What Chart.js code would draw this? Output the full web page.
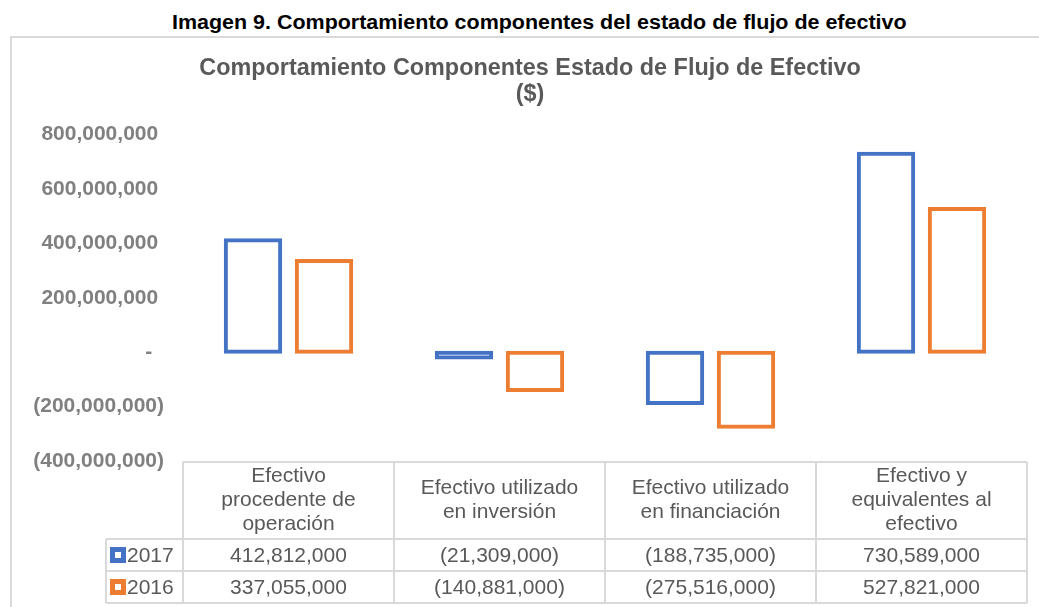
<!DOCTYPE html>
<html>
<head>
<meta charset="utf-8">
<script src="https://cdn.jsdelivr.net/npm/chart.js@4/dist/chart.umd.min.js"></script>
<style>
  body { margin: 0; background: #fff; width: 1039px; height: 607px; overflow: hidden; position: relative; font-family: 'Liberation Sans', Arial, sans-serif; }
  #titulo { position: absolute; left: 172px; top: 12px; font-weight: bold; font-size: 20px; line-height: 20px; color: #000; white-space: nowrap; transform-origin: left center; }
  #marco { position: absolute; left: 10px; top: 36px; right: 0; bottom: 0; border-left: 2px solid #d9d9d9; border-top: 2px solid #d9d9d9; }
  #contenedor { position: absolute; left: 13px; top: 40px; width: 1026px; height: 567px; }
</style>
</head>
<body>
<div id="titulo">Imagen 9. Comportamiento componentes del estado de flujo de efectivo</div>
<div id="marco"></div>
<div id="contenedor"><canvas id="grafico"></canvas></div>
<script>
// datos del grafico
const categorias = [
  ["Efectivo", "procedente de", "operación"],
  ["Efectivo utilizado", "en inversión"],
  ["Efectivo utilizado", "en financiación"],
  ["Efectivo y", "equivalentes al", "efectivo"]
];
const series = ["2017", "2016"];
const valores2017 = [412812000, -21309000, -188735000, 730589000];
const valores2016 = [337055000, -140881000, -275516000, 527821000];
const colores = ["#4472C4", "#ED7D31"];
const ejeMin = -400000000;
const ejeMax = 800000000;
const ejePaso = 200000000;

// ajustar ancho del titulo de la imagen
const tit = document.getElementById("titulo");
tit.style.transform = "scaleX(" + (735 / tit.offsetWidth) + ")";

const formato = (v) => {
  if (v === 0) return "-  ";
  if (v < 0) return "(" + Math.abs(v).toLocaleString("en-US") + ")";
  return v.toLocaleString("en-US") + " ";
};

// tabla de datos debajo del grafico
const tablaDatos = {
  id: "tablaDatos",
  afterDraw(chart) {
    const ctx = chart.ctx;
    const area = chart.chartArea;
    const x = chart.scales.x;
    const n = chart.data.labels.length;
    const w = (area.right - area.left) / n;
    const top = area.bottom + 1;
    const headBottom = top + 77;
    const filaAlto = 32;
    const izqLeyenda = 93;
    const bordes = [];
    for (let i = 0; i < n; i++) bordes.push(x.getPixelForValue(i) - w / 2);
    bordes.push(x.getPixelForValue(n - 1) + w / 2);

    ctx.save();
    ctx.strokeStyle = "#d9d9d9";
    ctx.lineWidth = 2;
    ctx.beginPath();
    ctx.moveTo(bordes[0], top); ctx.lineTo(bordes[n], top);
    for (let r = 0; r <= chart.data.datasets.length; r++) {
      const y = headBottom + r * filaAlto;
      ctx.moveTo(izqLeyenda, y); ctx.lineTo(bordes[n], y);
    }
    const fondo = headBottom + chart.data.datasets.length * filaAlto;
    ctx.moveTo(izqLeyenda, headBottom); ctx.lineTo(izqLeyenda, fondo);
    for (let i = 0; i <= n; i++) {
      ctx.moveTo(bordes[i], top); ctx.lineTo(bordes[i], fondo);
    }
    ctx.stroke();

    ctx.fillStyle = "#595959";
    ctx.font = "21px 'Liberation Sans', Arial, sans-serif";
    ctx.textAlign = "center";
    ctx.textBaseline = "middle";
    // encabezados
    const medioHead = (top + headBottom) / 2;
    for (let i = 0; i < n; i++) {
      const lineas = chart.data.labels[i];
      const cx = x.getPixelForValue(i);
      for (let l = 0; l < lineas.length; l++) {
        ctx.fillText(lineas[l], cx, medioHead + (l - (lineas.length - 1) / 2) * 24);
      }
    }
    // filas
    chart.data.datasets.forEach((ds, r) => {
      const cy = headBottom + r * filaAlto + filaAlto / 2;
      for (let i = 0; i < n; i++) {
        const v = ds.data[i];
        const txt = v < 0 ? "(" + Math.abs(v).toLocaleString("en-US") + ")" : v.toLocaleString("en-US");
        ctx.fillStyle = "#595959";
        ctx.textAlign = "center";
        ctx.fillText(txt, x.getPixelForValue(i), cy + 1);
      }
      // clave de leyenda
      ctx.fillStyle = ds.borderColor;
      ctx.fillRect(izqLeyenda + 4, cy - 8, 16, 16);
      ctx.fillStyle = "#fff";
      ctx.fillRect(izqLeyenda + 9, cy - 3, 6, 6);
      ctx.fillStyle = "#595959";
      ctx.textAlign = "left";
      ctx.fillText(ds.label, izqLeyenda + 21, cy + 1);
    });
    ctx.restore();
  }
};

const data = {
  labels: categorias,
  datasets: [
    { label: series[0], data: valores2017, borderColor: colores[0], backgroundColor: "rgba(0,0,0,0)", borderWidth: 1, inflateAmount: 1.5, borderSkipped: false },
    { label: series[1], data: valores2016, borderColor: colores[1], backgroundColor: "rgba(0,0,0,0)", borderWidth: 1, inflateAmount: 1.5, borderSkipped: false }
  ]
};

const config = {
  type: "bar",
  data: data,
  options: {
    responsive: true,
    maintainAspectRatio: false,
    animation: false,
    categoryPercentage: 0.673,
    barPercentage: 0.78,
    layout: { padding: { left: 20, right: 12, top: 0, bottom: 146 } },
    plugins: {
      legend: { display: false },
      tooltip: { enabled: false },
      title: {
        display: true,
        text: ["Comportamiento Componentes Estado de Flujo de Efectivo", "($)"],
        color: "#595959",
        font: { size: 23.4, weight: "bold", family: "'Liberation Sans', Arial, sans-serif", lineHeight: 1.1 },
        padding: { top: 16, bottom: 27 }
      }
    },
    scales: {
      x: { display: false },
      y: {
        min: ejeMin,
        max: ejeMax,
        grid: { display: false, drawTicks: false },
        border: { display: false },
        ticks: {
          stepSize: ejePaso,
          padding: 19,
          color: "#808080",
          font: { size: 21, weight: "bold", family: "'Liberation Sans', Arial, sans-serif" },
          callback: (v) => formato(v)
        },
        afterFit: (s) => { s.width = 150; }
      }
    }
  },
  plugins: [tablaDatos]
};

const myChart = new Chart(document.getElementById("grafico"), config);
</script>
</body>
</html>
